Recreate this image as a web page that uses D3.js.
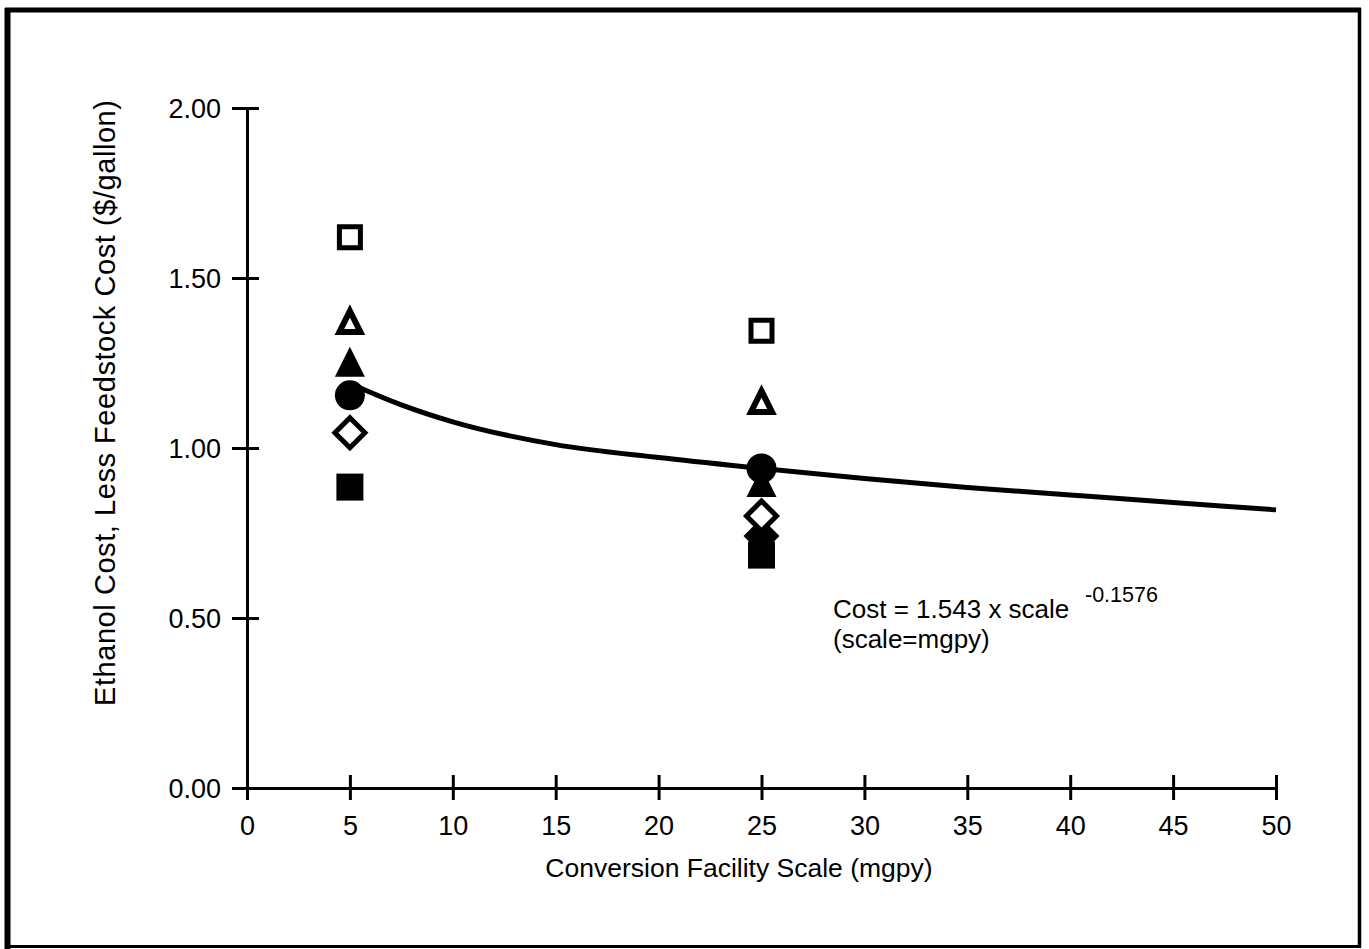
<!DOCTYPE html>
<html>
<head>
<meta charset="utf-8">
<script src="https://cdn.jsdelivr.net/npm/d3@7"></script>
<style>
  body { margin: 0; background: #fff; }
  text { font-family: "Liberation Sans", Arial, sans-serif; fill: #000; }
</style>
</head>
<body>
<div id="container"></div>
<script>

// facility scales that were costed (mgpy)
const scaleX = [5, 25];

// ethanol cost less feedstock ($/gallon), one array per marker, null = no point
const filledSquare   = [0.885, 0.685];
const filledDiamond  = [null, 0.741];
const openDiamond    = [1.045, 0.80];
const filledTriangle = [1.254, 0.90];
const filledCircle   = [1.155, 0.94];
const openTriangle   = [1.372, 1.137];
const openSquare     = [1.62, 1.345];

// fitted power curve
const curveX    = [5, 7.5, 10, 15, 20, 25, 30, 35, 40, 45, 50];
const curveCost = [1.19, 1.127, 1.077, 1.01, 0.972, 0.94, 0.91, 0.884, 0.862, 0.84, 0.818];

const xTicks = d3.range(0, 51, 5);
const yTicks = [0, 0.5, 1, 1.5, 2];

const width = 1369, height = 949;

// custom marker shapes (size = side squared, or diagonal squared for diamond)
const tri = { draw(ctx, size) {
  const h = Math.sqrt(size);
  ctx.moveTo(0, -h / 2); ctx.lineTo(h / 2, h / 2); ctx.lineTo(-h / 2, h / 2); ctx.closePath();
}};
const dia = { draw(ctx, size) {
  const r = Math.sqrt(size) / 2;
  ctx.moveTo(0, -r); ctx.lineTo(r, 0); ctx.lineTo(0, r); ctx.lineTo(-r, 0); ctx.closePath();
}};
const sq = { draw(ctx, size) {
  const r = Math.sqrt(size) / 2;
  ctx.rect(-r, -r, 2 * r, 2 * r);
}};

const series = [
  { values: filledSquare,   type: sq,              size: 27 * 27, open: false },
  { values: filledDiamond,  type: dia,             size: 36 * 36, open: false },
  { values: openDiamond,    type: dia,             size: 30 * 30, open: true, sw: 5 },
  { values: filledTriangle, type: tri,             size: 30 * 30, open: false },
  { values: filledCircle,   type: d3.symbolCircle, size: Math.PI * 15 * 15, open: false },
  { values: openTriangle,   type: tri,             size: 21 * 21, open: true, sw: 6 },
  { values: openSquare,     type: sq,              size: 21 * 21, open: true, sw: 5 }
];

const x = d3.scaleLinear().domain([0, 50]).range([247, 1276]);
const y = d3.scaleLinear().domain([0, 2]).range([788, 108]);

const svg = d3.select("#container").append("svg")
    .attr("width", width)
    .attr("height", height);

// page frame
const frame = svg.append("g").attr("stroke", "#000").attr("fill", "none");
frame.append("line").attr("x1", 7.5).attr("x2", 7.5).attr("y1", 8).attr("y2", 949).attr("stroke-width", 6);
frame.append("line").attr("x1", 5).attr("x2", 1361).attr("y1", 10).attr("y2", 10).attr("stroke-width", 5);
frame.append("line").attr("x1", 1359.5).attr("x2", 1359.5).attr("y1", 8).attr("y2", 948).attr("stroke-width", 3.5);
frame.append("line").attr("x1", 5).attr("x2", 1361).attr("y1", 946.5).attr("y2", 946.5).attr("stroke-width", 3);

// axes
const yAxis = svg.append("g")
    .attr("transform", `translate(${x(0)},0)`)
    .call(d3.axisLeft(y).tickValues(yTicks).tickFormat(d3.format(".2f")).tickSizeOuter(0));
yAxis.select(".domain").attr("stroke-width", 3);
yAxis.selectAll(".tick line").attr("x1", -15).attr("x2", 12).attr("stroke-width", 3);
yAxis.selectAll(".tick text").attr("x", -26).attr("dy", "0.35em")
    .attr("font-size", 27).attr("font-family", null);

const xAxis = svg.append("g")
    .attr("transform", `translate(0,${y(0)})`)
    .call(d3.axisBottom(x).tickValues(xTicks).tickFormat(d3.format("d")).tickSizeOuter(0));
xAxis.select(".domain").attr("stroke-width", 3);
xAxis.selectAll(".tick line").attr("y1", -13).attr("y2", 12).attr("stroke-width", 3);
xAxis.selectAll(".tick text").attr("y", 47).attr("dy", 0)
    .attr("font-size", 27).attr("font-family", null);

// axis titles
svg.append("text")
    .attr("x", 739).attr("y", 877)
    .attr("text-anchor", "middle")
    .attr("font-size", 26.5)
    .text("Conversion Facility Scale (mgpy)");

svg.append("text")
    .attr("transform", "translate(115,403) rotate(-90)")
    .attr("text-anchor", "middle")
    .attr("font-size", 29)
    .attr("textLength", 606)
    .attr("lengthAdjust", "spacing")
    .text("Ethanol Cost, Less Feedstock Cost ($/gallon)");

// fitted curve
const line = d3.line()
    .x((d, i) => x(curveX[i]))
    .y(d => y(d))
    .curve(d3.curveMonotoneX);

svg.append("path")
    .datum(curveCost)
    .attr("d", line)
    .attr("fill", "none")
    .attr("stroke", "#000")
    .attr("stroke-width", 5);

// markers
series.forEach(s => {
  const pts = s.values.map((v, i) => ({ x: scaleX[i], v })).filter(d => d.v != null);
  svg.append("g").selectAll("path").data(pts).enter().append("path")
      .attr("transform", d => `translate(${x(d.x)},${y(d.v)})`)
      .attr("d", d3.symbol().type(s.type).size(s.size))
      .attr("fill", s.open ? "#fff" : "#000")
      .attr("stroke", s.open ? "#000" : "none")
      .attr("stroke-width", s.open ? s.sw : 0)
      .attr("stroke-linejoin", "miter");
});

// equation note
const note = svg.append("text").attr("x", 833).attr("y", 618).attr("font-size", 26);
note.append("tspan").text("Cost = 1.543 x scale");
note.append("tspan").attr("x", 1085).attr("y", 602).attr("font-size", 21.5).text("-0.1576");

svg.append("text")
    .attr("x", 833).attr("y", 648)
    .attr("font-size", 26)
    .text("(scale=mgpy)");

</script>
</body>
</html>
